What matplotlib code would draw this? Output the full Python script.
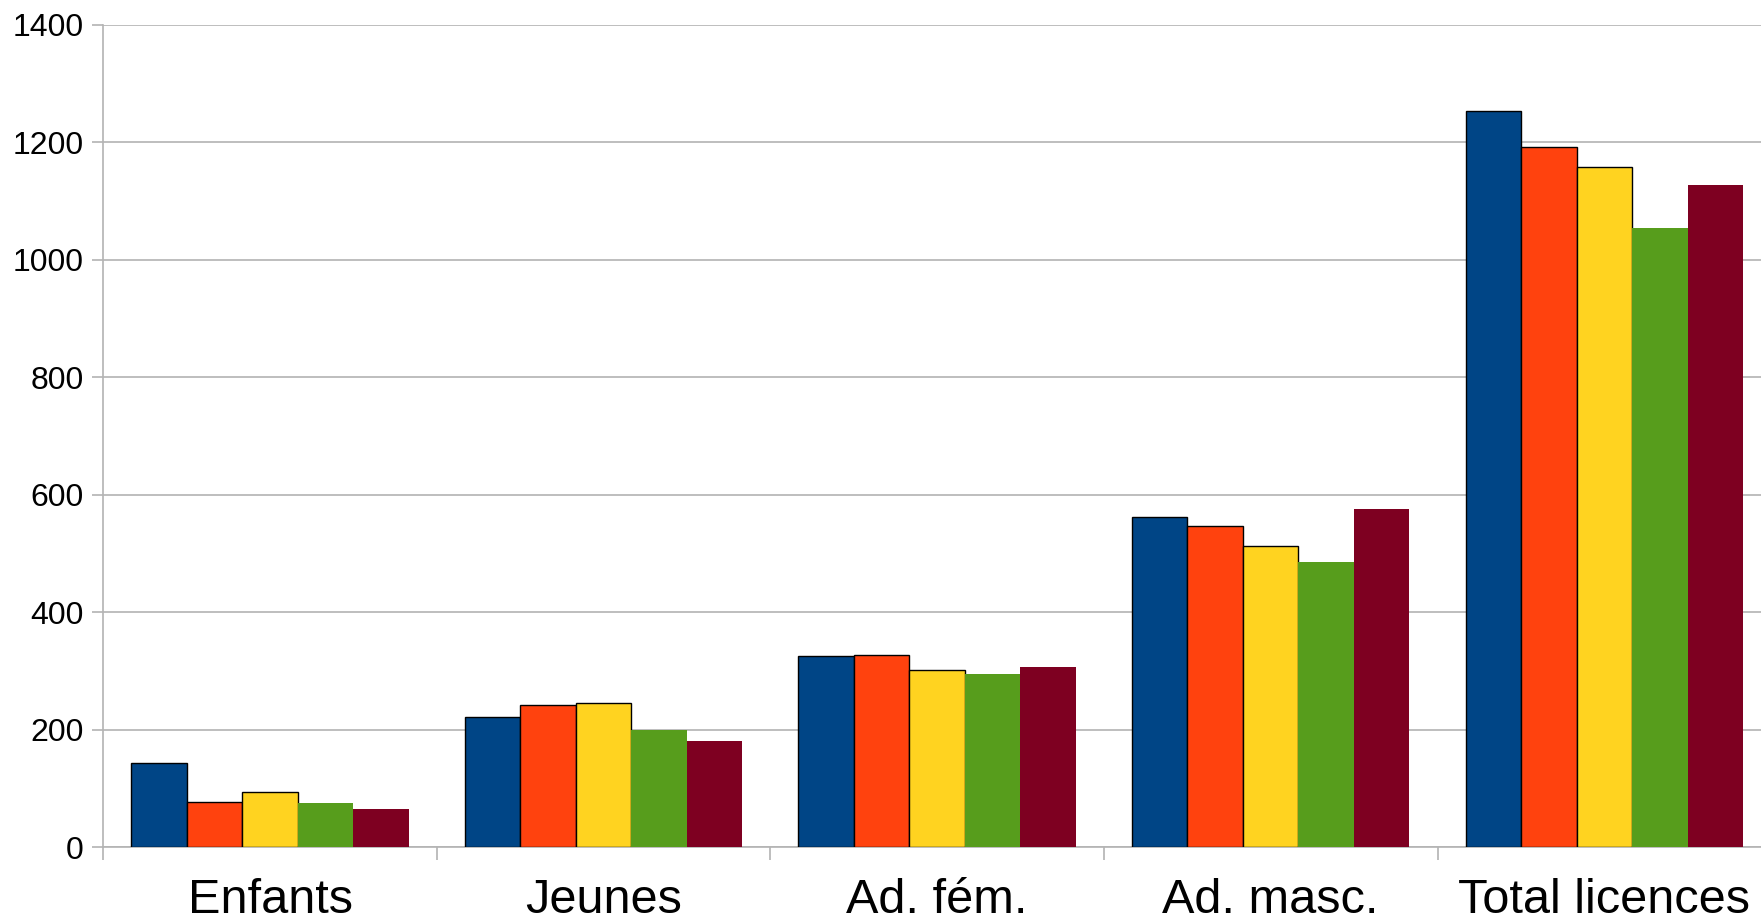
import matplotlib.pyplot as plt
import numpy as np

plt.rcParams['font.family'] = ['Liberation Sans', 'DejaVu Sans']

categories = ["Enfants", "Jeunes", "Ad. fém.", "Ad. masc.", "Total licences"]
serie1 = [143, 222, 325, 562, 1253]
serie2 = [76, 241, 327, 547, 1192]
serie3 = [94, 245, 302, 513, 1157]
serie4 = [75, 199, 295, 486, 1054]
serie5 = [65, 180, 306, 576, 1127]
yticks = [0, 200, 400, 600, 800, 1000, 1200, 1400]

series = [serie1, serie2, serie3, serie4, serie5]
colors = ["#004586", "#ff420e", "#ffd320", "#579d1c", "#7e0021"]
edged = [True, True, True, False, False]

fig = plt.figure(figsize=(17.61, 9.16), dpi=100)
ax = fig.add_axes([0.0587, 0.0753, 0.947, 0.8977])

x = np.arange(len(categories))
w = 0.832 / 5
for i, (vals, c, e) in enumerate(zip(series, colors, edged)):
    ax.bar(x + (i - 2) * w, vals, width=w, color=c,
           edgecolor="black" if e else c, linewidth=1.0 if e else 0,
           zorder=3)

ax.set_xlim(-0.5, 4.5)
ax.set_ylim(0, 1400)
ax.set_yticks(yticks)
ax.set_yticklabels([str(v) for v in yticks], fontsize=23)
ax.yaxis.grid(True, color="#b3b3b3", linewidth=1.2, zorder=0)

ax.set_xticks(x)
ax.set_xticklabels(categories, fontsize=35)
ax.set_xticks(np.arange(-0.5, 5.0, 1.0), minor=True)
ax.tick_params(axis="x", which="major", length=0, pad=22)
ax.tick_params(axis="x", which="minor", length=9, color="#b3b3b3", width=1.2)
ax.tick_params(axis="y", length=8, color="#b3b3b3", width=1.2, pad=6)

for s in ["top", "right"]:
    ax.spines[s].set_visible(False)
for s in ["left", "bottom"]:
    ax.spines[s].set_color("#b3b3b3")
    ax.spines[s].set_linewidth(1.2)

fig.savefig("out.png", dpi=100)
